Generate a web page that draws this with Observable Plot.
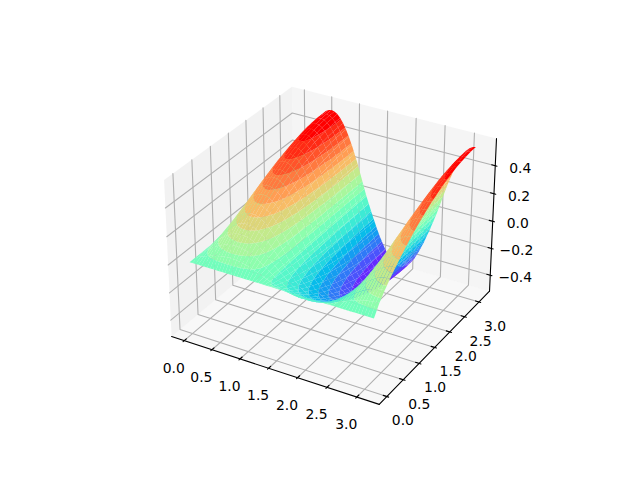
<!DOCTYPE html>
<html><head><meta charset="utf-8">
<style>html,body{margin:0;padding:0;background:#fff}</style>
<script src="https://cdn.jsdelivr.net/npm/d3@7"></script>
<script src="https://cdn.jsdelivr.net/npm/@observablehq/plot@0.6"></script>
</head><body><script>
const xTicks=[0,0.5,1,1.5,2,2.5,3];
const yTicks=[0,0.5,1,1.5,2,2.5,3];
const zTicks=[-0.4,-0.2,0,0.2,0.4];
const xlim=[-0.157,3.299], ylim=[-0.157,3.299], zlim=[-0.499,0.569];
const xValues=[0,.052,.105,.157,.209,.262,.314,.367,.419,.471,.524,.576,.628,.681,.733,.785,.838,.89,.942,.995,1.047,1.1,1.152,1.204,1.257,1.309,1.361,1.414,1.466,1.518,1.571,1.623,1.676,1.728,1.78,1.833,1.885,1.937,1.99,2.042,2.094,2.147,2.199,2.251,2.304,2.356,2.409,2.461,2.513,2.566,2.618,2.67,2.723,2.775,2.827,2.88,2.932,2.985,3.037,3.089,3.142];
const yValues=[0,.157,.314,.471,.628,.785,.942,1.1,1.257,1.414,1.571,1.728,1.885,2.042,2.199,2.356,2.513,2.67,2.827,2.985,3.142];
// surface heights, in thousandths, one row per y value
const zThousandths=[
[0,0,0,0,0,0,0,0,0,0,0,0,0,0,0,0,0,0,0,0,0,0,0,0,0,0,0,0,0,0,0,0,0,0,0,0,0,0,0,0,0,0,0,0,0,0,0,0,0,0,0,0,0,0,0,0,0,0,0,0,0],
[0,9,19,27,36,44,51,57,62,66,69,71,72,71,69,66,62,57,51,44,36,27,19,9,0,-8,-16,-23,-31,-37,-43,-49,-53,-57,-59,-61,-61,-61,-59,-57,-53,-49,-43,-37,-31,-23,-16,-8,0,9,19,27,36,44,51,57,62,66,69,71,72],
[0,16,32,48,62,76,88,99,108,115,120,124,125,124,120,115,108,99,88,76,62,48,32,16,0,-14,-28,-41,-53,-65,-75,-85,-92,-98,-103,-106,-107,-106,-103,-98,-92,-85,-75,-65,-53,-41,-28,-14,0,16,32,48,62,76,88,99,108,115,120,124,125],
[0,22,44,66,86,105,121,136,149,159,166,170,172,170,166,159,149,136,121,105,86,66,44,22,0,-19,-38,-56,-73,-89,-104,-116,-127,-136,-142,-145,-147,-145,-142,-136,-127,-116,-104,-89,-73,-56,-38,-19,0,22,44,66,86,105,121,136,149,159,166,170,172],
[0,28,56,82,107,131,152,171,186,199,208,213,215,213,208,199,186,171,152,131,107,82,56,28,0,-24,-48,-70,-92,-112,-130,-146,-159,-170,-177,-182,-184,-182,-177,-170,-159,-146,-130,-112,-92,-70,-48,-24,0,28,56,82,107,131,152,171,186,199,208,213,215],
[0,33,66,98,128,155,180,202,221,236,246,253,255,253,246,236,221,202,180,155,128,98,66,33,0,-28,-56,-83,-109,-133,-154,-173,-189,-201,-211,-216,-218,-216,-211,-201,-189,-173,-154,-133,-109,-83,-56,-28,0,33,66,98,128,155,180,202,221,236,246,253,255],
[0,38,76,112,146,178,207,232,253,270,282,290,292,290,282,270,253,232,207,178,146,112,76,38,0,-33,-65,-96,-125,-152,-177,-198,-216,-231,-241,-248,-250,-248,-241,-231,-216,-198,-177,-152,-125,-96,-65,-33,0,38,76,112,146,178,207,232,253,270,282,290,292],
[0,43,85,125,164,199,231,260,283,302,316,324,327,324,316,302,283,260,231,199,164,125,85,43,0,-36,-72,-107,-140,-170,-198,-222,-242,-258,-270,-277,-280,-277,-270,-258,-242,-222,-198,-170,-140,-107,-72,-36,0,43,85,125,164,199,231,260,283,302,316,324,327],
[0,47,93,138,180,219,254,285,311,332,347,356,360,356,347,332,311,285,254,219,180,138,93,47,0,-40,-79,-118,-154,-187,-217,-244,-266,-284,-297,-305,-307,-305,-297,-284,-266,-244,-217,-187,-154,-118,-79,-40,0,47,93,138,180,219,254,285,311,332,347,356,360],
[0,51,101,149,195,237,275,309,337,360,376,386,389,386,376,360,337,309,275,237,195,149,101,51,0,-43,-86,-127,-166,-203,-235,-264,-288,-307,-321,-330,-333,-330,-321,-307,-288,-264,-235,-203,-166,-127,-86,-43,0,51,101,149,195,237,275,309,337,360,376,386,389],
[0,54,108,160,208,254,295,331,361,385,403,413,417,413,403,385,361,331,295,254,208,160,108,54,0,-46,-92,-136,-178,-217,-252,-283,-308,-329,-344,-353,-356,-353,-344,-329,-308,-283,-252,-217,-178,-136,-92,-46,0,54,108,160,208,254,295,331,361,385,403,413,417],
[0,58,114,169,221,269,312,351,383,408,427,438,442,438,427,408,383,351,312,269,221,169,114,58,0,-49,-98,-145,-189,-230,-267,-300,-327,-349,-365,-374,-378,-374,-365,-349,-327,-300,-267,-230,-189,-145,-98,-49,0,58,114,169,221,269,312,351,383,408,427,438,442],
[0,61,120,178,232,283,328,368,402,429,448,460,464,460,448,429,402,368,328,283,232,178,120,61,0,-52,-103,-152,-198,-241,-280,-315,-343,-366,-383,-393,-397,-393,-383,-366,-343,-315,-280,-241,-198,-152,-103,-52,0,61,120,178,232,283,328,368,402,429,448,460,464],
[0,63,125,185,242,295,342,384,419,447,468,480,484,480,468,447,419,384,342,295,242,185,125,63,0,-54,-107,-158,-207,-252,-292,-328,-358,-382,-400,-410,-414,-410,-400,-382,-358,-328,-292,-252,-207,-158,-107,-54,0,63,125,185,242,295,342,384,419,447,468,480,484],
[0,65,130,192,251,305,355,398,434,463,484,497,502,497,484,463,434,398,355,305,251,192,130,65,0,-56,-111,-164,-214,-261,-303,-340,-371,-396,-414,-425,-429,-425,-414,-396,-371,-340,-303,-261,-214,-164,-111,-56,0,65,130,192,251,305,355,398,434,463,484,497,502],
[0,67,134,198,258,314,365,410,447,477,499,512,516,512,499,477,447,410,365,314,258,198,134,67,0,-58,-114,-169,-221,-269,-312,-350,-382,-408,-426,-437,-441,-437,-426,-408,-382,-350,-312,-269,-221,-169,-114,-58,0,67,134,198,258,314,365,410,447,477,499,512,516],
[0,69,137,202,264,322,374,419,458,488,510,524,528,524,510,488,458,419,374,322,264,202,137,69,0,-59,-117,-173,-226,-275,-319,-358,-391,-417,-436,-448,-452,-448,-436,-417,-391,-358,-319,-275,-226,-173,-117,-59,0,69,137,202,264,322,374,419,458,488,510,524,528],
[0,70,139,206,269,327,380,427,466,497,519,533,538,533,519,497,466,427,380,327,269,206,139,70,0,-60,-119,-176,-230,-280,-325,-365,-398,-425,-444,-456,-460,-456,-444,-425,-398,-365,-325,-280,-230,-176,-119,-60,0,70,139,206,269,327,380,427,466,497,519,533,538],
[0,71,141,208,272,331,385,432,472,503,526,540,545,540,526,503,472,432,385,331,272,208,141,71,0,-61,-120,-178,-233,-283,-329,-369,-403,-430,-450,-461,-465,-461,-450,-430,-403,-369,-329,-283,-233,-178,-120,-61,0,71,141,208,272,331,385,432,472,503,526,540,545],
[0,72,142,210,274,334,388,435,475,507,530,544,549,544,530,507,475,435,388,334,274,210,142,72,0,-61,-121,-179,-234,-285,-331,-372,-406,-433,-453,-465,-469,-465,-453,-433,-406,-372,-331,-285,-234,-179,-121,-61,0,72,142,210,274,334,388,435,475,507,530,544,549],
[0,72,142,211,275,335,389,436,476,508,531,545,550,545,531,508,476,436,389,335,275,211,142,72,0,-61,-122,-180,-235,-286,-332,-373,-407,-434,-454,-466,-470,-466,-454,-434,-407,-373,-332,-286,-235,-180,-122,-61,0,72,142,211,275,335,389,436,476,508,531,545,550]
];
const m=1/48;
function lim(l){const d=l[1]-l[0];return [l[0]-d*m,l[1]+d*m];}
const XL=lim(xlim),YL=lim(ylim),ZL=lim(zlim);
const aspect=[4,4,3].map(v=>v*1.8294640721620434*25/24/Math.hypot(4,4,3));
const elev=30*Math.PI/180,azim=-60*Math.PI/180,dist=10;
const R=aspect.map(v=>v/2);
const eye=[R[0]+dist*Math.cos(elev)*Math.cos(azim),R[1]+dist*Math.cos(elev)*Math.sin(azim),R[2]+dist*Math.sin(elev)];
function norm(v){const n=Math.hypot(...v);return v.map(a=>a/n);}
function cross(a,b){return [a[1]*b[2]-a[2]*b[1],a[2]*b[0]-a[0]*b[2],a[0]*b[1]-a[1]*b[0]];}
function dot(a,b){return a[0]*b[0]+a[1]*b[1]+a[2]*b[2];}
const w=norm(eye.map((e,i)=>e-R[i]));
const u=norm(cross([0,0,1],w));
const v=cross(w,u);
function proj(x,y,z){
  const p=[(x-XL[0])/(XL[1]-XL[0])*aspect[0],(y-YL[0])/(YL[1]-YL[0])*aspect[1],(z-ZL[0])/(ZL[1]-ZL[0])*aspect[2]];
  const d=p.map((a,i)=>a-eye[i]);
  const vx=dot(u,d),vy=dot(v,d),vz=dot(w,d);
  const sx=vx/(-vz),sy=vy/(-vz);
  const s=369.6/0.185;
  return {px:143.2+(sx+0.095)*s,py:427.2-(sy+0.095)*s,depth:-vz};
}
const Z=zThousandths.map(r=>r.map(t=>t/1000));
const N=20;
const zmin=d3.min(Z.flat()),zmax=d3.max(Z.flat());
const lut=d3.range(N).map(i=>{const t=i/(N-1);return d3.rgb(255*Math.min(1,Math.abs(2*t-.5)),255*Math.sin(Math.PI*t),255*Math.cos(Math.PI*t/2)).formatHex();});
const edges=d3.range(0,N+1).map(i=>zmin+(zmax-zmin)*i/N);
function clip(poly,level,keepAbove){
  const out=[];
  poly.forEach((a,i)=>{
    const b=poly[(i+1)%poly.length];
    const ia=keepAbove?a[2]>=level:a[2]<=level, ib=keepAbove?b[2]>=level:b[2]<=level;
    if(ia)out.push(a);
    if(ia!==ib){const t=(level-a[2])/(b[2]-a[2]);out.push([a[0]+t*(b[0]-a[0]),a[1]+t*(b[1]-a[1]),level]);}
  });
  return out;
}
const cells=[];
for(let j=0;j<yValues.length-1;j++)for(let i=0;i<xValues.length-1;i++){
  const q=[[i,j],[i+1,j],[i+1,j+1],[i,j+1]].map(([a,b])=>[xValues[a],yValues[b],Z[b][a]]);
  const d=d3.mean(q,p=>proj(...p).depth);
  const polys=[];
  for(let k=0;k<N;k++){
    const lo=edges[k],hi=edges[k+1];
    if(d3.max(q,p=>p[2])<lo||d3.min(q,p=>p[2])>hi)continue;
    const p=clip(clip(q,lo,true),hi,false);
    if(p.length>2)polys.push({p,c:(lo+hi)/2});
  }
  cells.push({d,polys});
}
cells.sort((a,b)=>b.d-a.d);
const pts=[];let id=0;
for(const cell of cells)for(const {p,c} of cell.polys){id++;for(const q of p){const s=proj(...q);pts.push({id,x:s.px,y:s.py,v:c});}}
const [x0,x1]=XL,[y0,y1]=YL,[z0,z1]=ZL;
const marks=[];
const path=(c,o)=>Plot.line(c.map(p=>proj(...p)),{x:"px",y:"py",...o});
marks.push(path([[x0,y0,z0],[x1,y0,z0],[x1,y1,z0],[x0,y1,z0]],{fill:"rgb(242,242,242)",fillOpacity:.5,stroke:"none"}));
marks.push(path([[x0,y0,z0],[x0,y1,z0],[x0,y1,z1],[x0,y0,z1]],{fill:"rgb(230,230,230)",fillOpacity:.5,stroke:"none"}));
marks.push(path([[x0,y1,z0],[x1,y1,z0],[x1,y1,z1],[x0,y1,z1]],{fill:"rgb(236,236,236)",fillOpacity:.5,stroke:"none"}));
const grid={stroke:"rgb(176,176,176)",strokeWidth:1.1};
for(const t of xTicks)marks.push(path([[t,y0,z0],[t,y1,z0],[t,y1,z1]],grid));
for(const t of yTicks)marks.push(path([[x1,t,z0],[x0,t,z0],[x0,t,z1]],grid));
for(const t of zTicks)marks.push(path([[x0,y0,t],[x0,y1,t],[x1,y1,t]],grid));
const ax={stroke:"#000",strokeWidth:1.1};
marks.push(path([[x0,y0,z0],[x1,y0,z0]],ax),path([[x1,y0,z0],[x1,y1,z0]],ax),path([[x1,y1,z0],[x1,y1,z1]],ax));
const dx=(x1-x0)/12,dy=(y1-y0)/12;
for(const t of xTicks)marks.push(path([[t,y0-.1*dy,z0],[t,y0+.2*dy,z0]],ax));
for(const t of yTicks)marks.push(path([[x1+.1*dx,t,z0],[x1-.2*dx,t,z0]],ax));
for(const t of zTicks)marks.push(path([[x1+.1*dx,y1,t],[x1-.2*dx,y1,t]],ax));
marks.push(Plot.line(pts,{x:"x",y:"y",z:"id",fill:"v"}));
const fmt=t=>(t<0?"\u2212":"")+Math.abs(t).toFixed(1);
const text={fontFamily:"DejaVu Sans",fontSize:13.9,fill:"#000",stroke:"none"};
marks.push(Plot.text(xTicks.map(t=>({...proj(t,y0,z0),t})),{x:"px",y:"py",text:d=>fmt(d.t),dx:-10.5,dy:27.5,...text}));
marks.push(Plot.text(yTicks.map(t=>({...proj(x1,t,z0),t})),{x:"px",y:"py",text:d=>fmt(d.t),dx:16,dy:24.5,...text}));
marks.push(Plot.text(zTicks.map(t=>({...proj(x1,y1,t),t})),{x:"px",y:"py",text:d=>fmt(d.t),dx:25,dy:2.5,...text}));
document.body.append(Plot.plot({width:640,height:480,margin:0,x:{domain:[0,640],axis:null},y:{domain:[0,480],range:[0,480],axis:null},color:{type:"threshold",domain:edges.slice(1,-1),range:lut},marks}));
</script></body></html>
